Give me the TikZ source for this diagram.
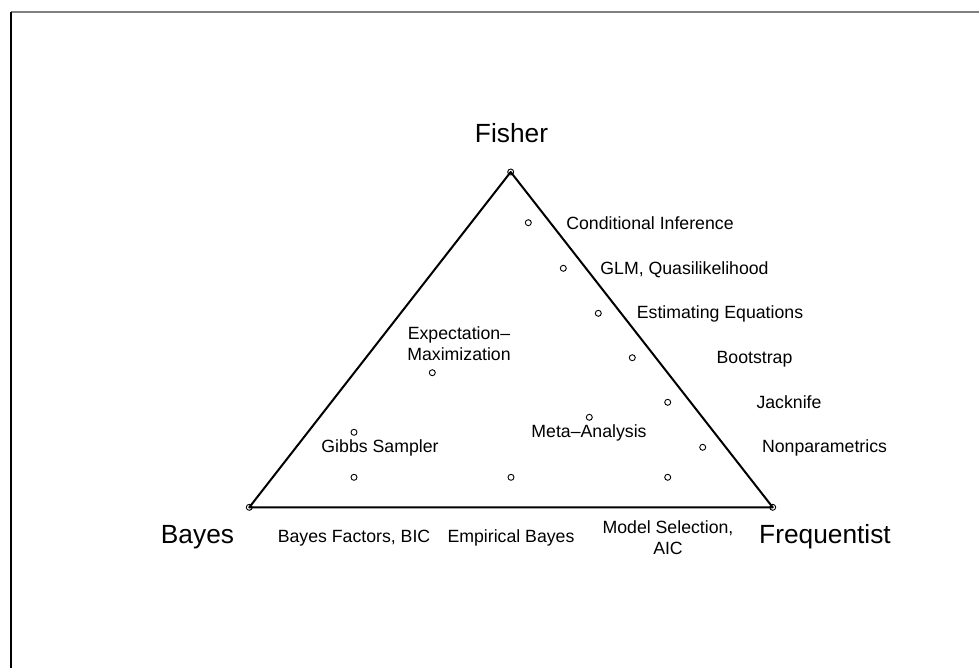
\documentclass[tikz,border=0pt]{standalone}
\usepackage{fontspec}
\setmainfont{Liberation Sans}
\begin{document}
\begin{tikzpicture}[x=0.5pt,y=-0.5pt,
	dot/.style={circle,draw,line width=0.45pt,inner sep=0pt,minimum size=3pt},
	lab/.style={font=\fontsize{8.85}{10.2}\selectfont,inner sep=0pt,anchor=base,align=center},
	big/.style={font=\fontsize{13.15}{15}\selectfont,inner sep=0pt,anchor=base}]
		\useasboundingbox (0,0) rectangle (979,668);
		% frame
		\draw[gray,line width=0.6pt] (11,12) -- (979,12);
		\draw[line width=0.6pt] (11,12) -- (11,668);
		% corners of the triangle
		\coordinate (fisher) at (510.7,172);
		\coordinate (bayes) at (249.3,507.3);
		\coordinate (freq) at (772.7,507.3);
		\draw[line width=1pt,line join=round] (bayes) -- (freq) -- (fisher) -- cycle;
		\node[dot] (fisherdot) at (fisher) {};
		\node[dot] (bayesdot) at (bayes) {};
		\node[dot] (freqdot) at (freq) {};
		\node[big] (fisherlab) at (511.5,143) {Fisher};
		\node[big] (bayeslab) at (197.5,543) {Bayes};
		\node[big] (freqlab) at (825,543) {Frequentist};
		% methods
		\node[dot] (cond) at (528.3,222.7) {};
		\node[dot] (glm) at (563.3,268.3) {};
		\node[dot] (esteq) at (598.3,313.3) {};
		\node[dot] (boot) at (632.3,357.7) {};
		\node[dot] (jack) at (667.7,402.3) {};
		\node[dot] (nonpar) at (702.7,447.3) {};
		\node[dot] (modsel) at (667.7,477.3) {};
		\node[dot] (meta) at (589.3,417.3) {};
		\node[dot] (em) at (432.3,372.7) {};
		\node[dot] (gibbs) at (354,432.3) {};
		\node[dot] (bf) at (354,477.3) {};
		\node[dot] (eb) at (511,477.3) {};
		\node[lab] (condlab) at (650,230) {Conditional Inference};
		\node[lab] (glmlab) at (684.5,274) {GLM, Quasilikelihood};
		\node[lab] (esteqlab) at (720,318) {Estimating Equations};
		\node[lab] (bootlab) at (754.5,363) {Bootstrap};
		\node[lab] (jacklab) at (789,408) {Jacknife};
		\node[lab] (nonparlab) at (824.5,452) {Nonparametrics};
		\node[lab] (modsellab) at (668,554) {Model Selection,\\AIC};
		\node[lab] (metalab) at (589,437) {Meta–Analysis};
		\node[lab] (emlab) at (459,360) {Expectation–\\Maximization};
		\node[lab] (gibbslab) at (380,452) {Gibbs Sampler};
		\node[lab] (bflab) at (354,542) {Bayes Factors, BIC};
		\node[lab] (eblab) at (511,542) {Empirical Bayes};
\end{tikzpicture}
\end{document}
